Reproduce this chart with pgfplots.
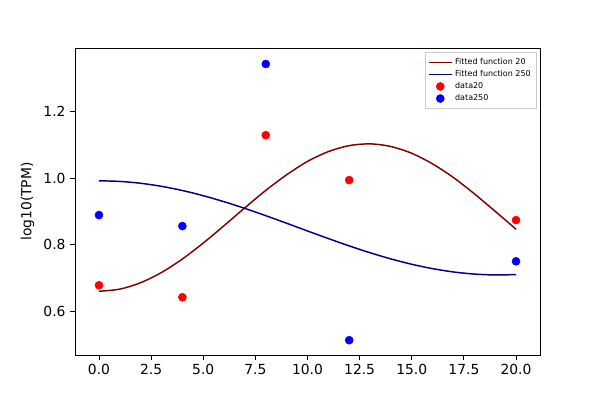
\documentclass[border=0pt]{standalone}
\usepackage{pgfplots}
\pgfplotsset{compat=1.18}
\usepackage{fontspec}
\setmainfont{DejaVu Sans}
\definecolor{fitA}{HTML}{800000}
\definecolor{fitB}{HTML}{000080}
\begin{document}
\begin{tikzpicture}
\useasboundingbox (0,0) rectangle (450pt,300pt);
\begin{axis}[
  at={(56.25pt,33.75pt)}, anchor=south west,
  scale only axis, width=348.75pt, height=230.25pt,
  xmin=-1.15, xmax=21.15, ymin=0.4685, ymax=1.391,
  xtick={0,2.5,5,7.5,10,12.5,15,17.5,20},
  ytick={0.6,0.8,1.0,1.2},
  xticklabel style={/pgf/number format/.cd,fixed,fixed zerofill,precision=1},
  yticklabel style={/pgf/number format/.cd,fixed,fixed zerofill,precision=1},
  /pgf/number format/assume math mode=true,
  tick label style={font=\fontsize{10.4}{12}\selectfont},
  label style={font=\fontsize{10.4}{12}\selectfont},
  ylabel={log10(TPM)},
  tick align=outside, tick pos=left,
  major tick length=3.6pt,
  axis line style={line width=0.6pt},
  tick style={line width=0.6pt, black},
  legend style={at={(0.992,0.987)}, anchor=north east, font=\fontsize{6}{7}\selectfont,
    draw=black!20, row sep=-1pt, inner sep=2pt},
  legend cell align=left,
]
\addlegendimage{empty legend}
\addlegendentry[inner sep=0pt]{}
\addlegendimage{line width=1.2pt, legend image code/.code={\draw[color=fitA, line width=1.2pt] (0cm,0cm) -- (0.6cm,0cm);}}
\addlegendentry{Fitted function 20}
\addlegendimage{line width=1.2pt, legend image code/.code={\draw[color=fitB, line width=1.2pt] (0cm,0cm) -- (0.6cm,0cm);}}
\addlegendentry{Fitted function 250}
\addlegendimage{only marks, mark=*, mark size=3pt, red}
\addlegendentry{data20}
\addlegendimage{only marks, mark=*, mark size=3pt, blue}
\addlegendentry{data250}
\addplot[forget plot, draw=fitA, line width=1.1pt, smooth, no markers] coordinates {
(0,0.660)(1,0.6665)(2,0.6858)(3,0.7165)(4,0.7570)(5,0.8049)(6,0.8573)(7,0.9111)
(8,0.9632)(9,1.0100)(10,1.0502)(11,1.0797)(12,1.0976)(13,1.1029)(14,1.0950)
(15,1.0746)(16,1.0427)(17,1.0017)(18,0.9530)(19,0.9004)(20,0.8464)};
\addplot[forget plot, draw=fitB, line width=1.1pt, smooth, no markers] coordinates {
(0,0.992)(1,0.9901)(2,0.9845)(3,0.9753)(4,0.9628)(5,0.9472)(6,0.9291)(7,0.9089)
(8,0.8871)(9,0.8644)(10,0.8412)(11,0.8184)(12,0.7963)(13,0.7758)(14,0.7572)
(15,0.7411)(16,0.7280)(17,0.7180)(18,0.7117)(19,0.7090)(20,0.7102)};
\addplot[forget plot, only marks, mark=*, mark size=3pt, color=red] coordinates {
(0,0.678)(4,0.642)(8,1.129)(12,0.994)(20,0.874)};
\addplot[forget plot, only marks, mark=*, mark size=3pt, color=blue] coordinates {
(0,0.889)(4,0.856)(8,1.343)(12,0.513)(20,0.750)};
\end{axis}
\end{tikzpicture}
\end{document}
